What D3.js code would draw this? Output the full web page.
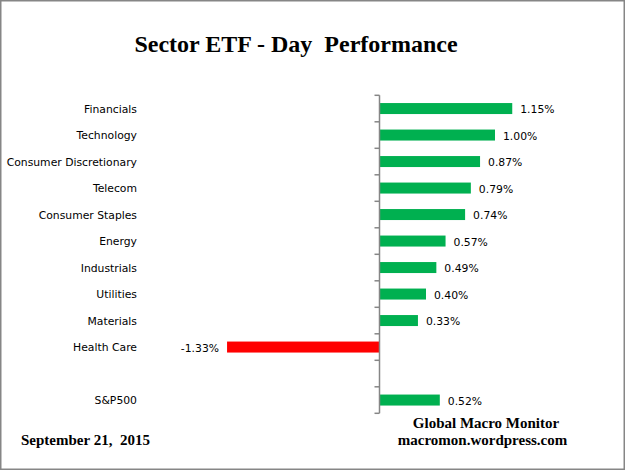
<!DOCTYPE html>
<html lang="en">
<meta charset="utf-8">
<script src="https://cdn.jsdelivr.net/npm/d3@7"></script>
<style type="text/css">
body {
    margin: 0;
    background-color: #ffffff;
}
.cat, .val {
    font-family: "DejaVu Sans", Verdana, sans-serif;
    font-size: 10.8px;
    fill: #000;
}
.serif {
    font-family: "Liberation Serif", "Times New Roman", serif;
    font-weight: bold;
    fill: #000;
}
</style>
<body>
<script type="text/javascript">
// input data (a blank row sits between Health Care and S&P500)
var categories = ["Financials", "Technology", "Consumer Discretionary", "Telecom",
    "Consumer Staples", "Energy", "Industrials", "Utilities", "Materials",
    "Health Care", "", "S&P500"];
var values = [1.15, 1.00, 0.87, 0.79, 0.74, 0.57, 0.49, 0.40, 0.33, -1.33, null, 0.52];
var valueLabels = ["1.15%", "1.00%", "0.87%", "0.79%", "0.74%", "0.57%", "0.49%",
    "0.40%", "0.33%", "-1.33%", "", "0.52%"];

var data = categories.map(function(c, i) {
    return {cat: c, key: c === "" ? "blank" : c, value: values[i], label: valueLabels[i]};
});

var W = 626, H = 471;

var svg = d3.select("body")
    .append("svg")
    .attr("width", W)
    .attr("height", H);

// outer frame
svg.append("rect")
    .attr("x", 0.75).attr("y", 0.75)
    .attr("width", W - 2.5).attr("height", H - 2.5)
    .style("fill", "#fff")
    .style("stroke", "#868686")
    .style("stroke-width", 1.5);

var x = d3.scaleLinear().domain([-1.5, 1.5]).range([207.5, 552.5]);
var y = d3.scaleBand()
    .domain(data.map(function(d) { return d.key; }))
    .range([95.3, 413.3])
    .paddingInner(0.585)
    .paddingOuter(0.2925);

var step = y.step();
var bw = y.bandwidth();

// title
svg.append("text")
    .attr("class", "serif")
    .attr("x", 296)
    .attr("y", 52)
    .attr("text-anchor", "middle")
    .style("font-size", "24px")
    .style("white-space", "pre")
    .text("Sector ETF - Day  Performance");

// bars
svg.selectAll(".bar")
    .data(data.filter(function(d) { return d.value !== null; }))
    .enter()
    .append("rect")
    .attr("class", "bar")
    .attr("x", function(d) { return x(Math.min(0, d.value)); })
    .attr("y", function(d) { return y(d.key); })
    .attr("width", function(d) { return Math.abs(x(d.value) - x(0)); })
    .attr("height", bw)
    .style("fill", function(d) { return d.value < 0 ? "#FF0000" : "#00B050"; });

// axis line and ticks at band edges
var axis = svg.append("g");
axis.append("line")
    .attr("x1", x(0) - 0.5).attr("x2", x(0) - 0.5)
    .attr("y1", y.range()[0]).attr("y2", y.range()[1])
    .style("stroke", "#868686")
    .style("stroke-width", 1.5);

var tickYs = data.map(function(d) { return y(d.key) - (step - bw) / 2; });
tickYs.push(y.range()[1]);
axis.selectAll(".tick")
    .data(tickYs)
    .enter()
    .append("line")
    .attr("x1", x(0) - 5.5).attr("x2", x(0) - 0.5)
    .attr("y1", function(d) { return d; })
    .attr("y2", function(d) { return d; })
    .style("stroke", "#868686")
    .style("stroke-width", 1.5);

// category labels
svg.selectAll(".cat")
    .data(data)
    .enter()
    .append("text")
    .attr("class", "cat")
    .attr("x", 137)
    .attr("y", function(d) { return y(d.key) + bw / 2 + 4; })
    .attr("text-anchor", "end")
    .text(function(d) { return d.cat; });

// value labels
svg.selectAll(".val")
    .data(data.filter(function(d) { return d.value !== null; }))
    .enter()
    .append("text")
    .attr("class", "val")
    .attr("x", function(d) { return d.value < 0 ? x(d.value) - 8 : x(d.value) + 8; })
    .attr("y", function(d) { return y(d.key) + bw / 2 + 4.5; })
    .attr("text-anchor", function(d) { return d.value < 0 ? "end" : "start"; })
    .text(function(d) { return d.label; });

// footer texts
svg.append("text")
    .attr("class", "serif")
    .attr("x", 21)
    .attr("y", 445)
    .style("font-size", "15px")
    .style("white-space", "pre")
    .text("September 21,  2015");

svg.append("text")
    .attr("class", "serif")
    .attr("x", 486)
    .attr("y", 428)
    .attr("text-anchor", "middle")
    .style("font-size", "15px")
    .text("Global Macro Monitor");

svg.append("text")
    .attr("class", "serif")
    .attr("x", 482.5)
    .attr("y", 444.5)
    .attr("text-anchor", "middle")
    .style("font-size", "15px")
    .text("macromon.wordpress.com");
</script>
</body>
</html>
